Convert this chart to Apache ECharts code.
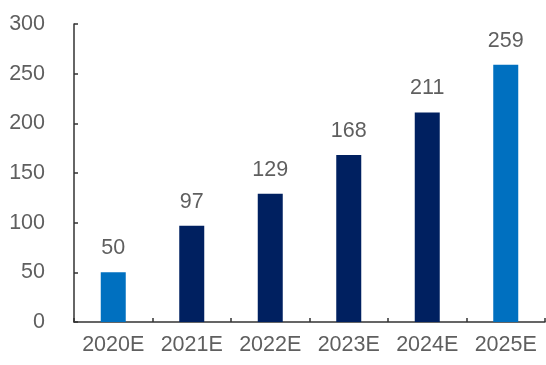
<!DOCTYPE html>
<html>
<head>
<meta charset="utf-8">
<script src="https://cdn.jsdelivr.net/npm/echarts@6/dist/echarts.min.js"></script>
<style>
  html, body { margin: 0; padding: 0; background: #ffffff; }
  #chart { width: 546px; height: 365px; }
</style>
</head>
<body>
<div id="chart"></div>
<script>
// Forecast values by year
const categories = ['2020E', '2021E', '2022E', '2023E', '2024E', '2025E'];
const values = [50, 97, 129, 168, 211, 259];
// First and last years are highlighted in a lighter blue
const highlighted = [true, false, false, false, false, true];

const LIGHT = '#0070C0';
const DARK = '#002060';
const TEXT = '#5f5f5f';
const FONT = '"Liberation Sans", Arial, sans-serif';

const chart = echarts.init(document.getElementById('chart'), null, { renderer: 'canvas' });

chart.setOption({
  animation: false,
  backgroundColor: '#ffffff',
  grid: { left: 74, right: 1, top: 24, bottom: 43 },
  xAxis: {
    type: 'category',
    data: categories,
    axisLine: { lineStyle: { color: '#333333', width: 1.5 } },
    axisTick: { show: true, inside: true, length: 4, alignWithLabel: false, lineStyle: { color: '#333333', width: 1.5 } },
    axisLabel: { color: TEXT, fontSize: 21.5, fontFamily: FONT, margin: 12, interval: 0, hideOverlap: false }
  },
  yAxis: {
    type: 'value',
    min: 0,
    max: 300,
    interval: 50,
    splitLine: { show: false },
    axisLine: { show: true, lineStyle: { color: '#333333', width: 1.5 } },
    axisTick: { show: true, inside: true, length: 4, lineStyle: { color: '#333333', width: 1.5 } },
    axisLabel: { color: TEXT, fontSize: 21.5, fontFamily: FONT, margin: 29 }
  },
  series: [{
    type: 'bar',
    barWidth: 25,
    data: values.map((v, i) => ({
      value: v,
      itemStyle: { color: highlighted[i] ? LIGHT : DARK }
    })),
    label: {
      show: true,
      position: 'top',
      distance: 13,
      color: TEXT,
      fontSize: 21.5,
      fontFamily: FONT
    }
  }]
});
</script>
</body>
</html>
